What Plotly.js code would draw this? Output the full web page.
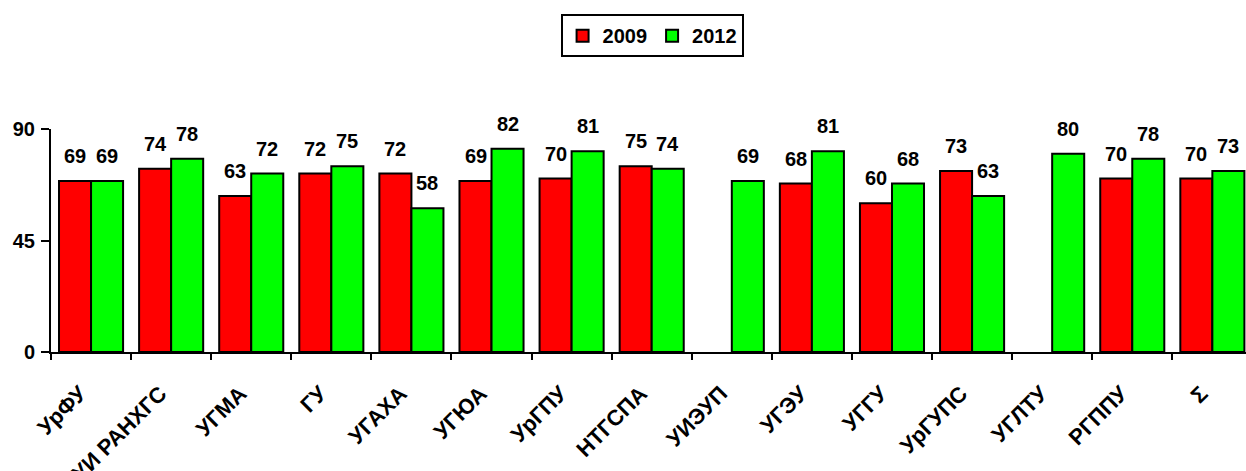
<!DOCTYPE html>
<html><head><meta charset="utf-8">
<script src="https://cdn.plot.ly/plotly-3.0.1.min.js"></script>
<style>html,body{margin:0;padding:0;background:#fff}#chart{width:1246px;height:471px}</style>
</head><body><div id="chart"></div>
<script>
const categories = ["УрФУ","УИ РАНХГС","УГМА","ГУ","УГАХА","УГЮА","УрГПУ","НТГСПА","УИЭУП","УГЭУ","УГГУ","УрГУПС","УГЛТУ","РГППУ","Σ"];
const values2009 = [69,74,63,72,72,69,70,75,null,68,60,73,null,70,70];
const values2012 = [69,78,72,75,58,82,81,74,69,81,68,63,80,78,73];
const yTicks = [0,45,90];

const font = {family:"Liberation Sans, Arial, sans-serif", color:"#000"};
function barTrace(name, vals, color){
  return {type:"bar", name:name, x:categories, y:vals,
    marker:{color:color, line:{color:"#000", width:2}}, cliponaxis:false, hoverinfo:"skip"};
}
const annotations = [];
function addLabels(vals, shift){
  vals.forEach((v,i)=>{
    if(v===null) return;
    annotations.push({x:categories[i], y:v, xref:"x", yref:"y", text:"<b>"+v+"</b>", showarrow:false,
      xshift:shift, yshift:12, yanchor:"bottom", font:Object.assign({size:20},font)});
  });
}
addLabels(values2009,-16);
addLabels(values2012,16);

const layout = {
  width:1246, height:471,
  margin:{l:51, r:0, t:129, b:119},
  paper_bgcolor:"#fff", plot_bgcolor:"#fff",
  barmode:"group", bargap:0.2, bargroupgap:0,
  showlegend:true,
  legend:{orientation:"h", x:0.503, xanchor:"center", y:1.515, yanchor:"top",
    bordercolor:"#000", borderwidth:2, font:Object.assign({size:20, weight:"bold"},font),
    itemwidth:30, tracegroupgap:0},
  font:font,
  xaxis:{type:"category", range:[-0.5,14.42], showline:true, linecolor:"#000", linewidth:2,
    ticks:"outside", tickson:"boundaries", ticklen:6, tickwidth:2, tickcolor:"#000",
    ticklabelstandoff:18, ticklabelshift:-11,
    tickangle:-45, tickfont:Object.assign({size:22, weight:"bold"},font), showgrid:false, zeroline:false},
  yaxis:{range:[0,90], tickvals:yTicks, ticktext:yTicks.map(String), showline:true, linecolor:"#000", linewidth:2,
    ticks:"outside", ticklen:8, tickwidth:2, tickcolor:"#000", ticklabelstandoff:2,
    tickfont:Object.assign({size:20, weight:"bold"},font), showgrid:false, zeroline:false},
  annotations:annotations
};
Plotly.newPlot("chart", [barTrace("2009", values2009, "#ff0000"), barTrace("2012", values2012, "#00ff00")], layout, {staticPlot:true});
</script></body></html>
